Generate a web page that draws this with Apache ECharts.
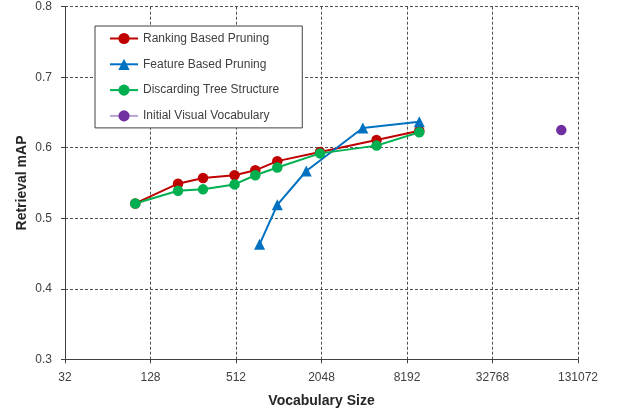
<!DOCTYPE html>
<html><head><meta charset="utf-8">
<script src="https://cdn.jsdelivr.net/npm/echarts@6/dist/echarts.min.js"></script>
<style>html,body{margin:0;padding:0;background:#fff}#c{width:620px;height:412px}</style>
</head><body><div id="c"></div>
<script>
const seriesNames = ['Ranking Based Pruning','Feature Based Pruning','Discarding Tree Structure','Initial Visual Vocabulary'];
const rankingSizes = [100,200,300,500,700,1000,2000,5000,10000];
const rankingMAP   = [0.521,0.549,0.557,0.561,0.568,0.581,0.594,0.611,0.624];
const featureSizes = [750,1000,1600,4000,10000];
const featureMAP   = [0.463,0.519,0.567,0.628,0.637];
const discardSizes = [100,200,300,500,700,1000,2000,5000,10000];
const discardMAP   = [0.521,0.539,0.541,0.548,0.561,0.572,0.592,0.603,0.622];
const initialSizes = [100000];
const initialMAP   = [0.625];
const xTickLabels  = ['32','128','512','2048','8192','32768','131072'];
const yTickLabels  = ['0.3','0.4','0.5','0.6','0.7','0.8'];
const baseSize = 32; // x axis starts at 32, each unit = one doubling

const colors = ['#C00000','#0070C0','#00B050','#7030A0'];
const FONT = '"Liberation Sans", Arial, sans-serif';
const toPts = (sizes, vals) => sizes.map((s, i) => [Math.log2(s / baseSize), vals[i]]);

const chart = echarts.init(document.getElementById('c'), null, {renderer: 'canvas'});
const dash = {color: '#505050', width: 1, type: [3, 2]};
chart.setOption({
  animation: false,
  backgroundColor: '#fff',
  grid: {left: 65, right: 42, top: 6.7, bottom: 52.7, containLabel: false, outerBoundsMode: 'none'},
  xAxis: {
    type: 'value', min: 0, max: 12, interval: 2,
    name: 'Vocabulary Size', nameLocation: 'middle', nameGap: 35, nameMoveOverlap: false,
    nameTextStyle: {fontFamily: FONT, fontSize: 14, fontWeight: 'bold', color: '#262626'},
    axisLine: {show: true, lineStyle: {color: '#404040', width: 1}},
    axisTick: {show: true, length: 4, lineStyle: {color: '#404040'}},
    axisLabel: {margin: 12, fontFamily: FONT, fontSize: 12, color: '#404040',
      formatter: v => xTickLabels[Math.round(v / 2)]},
    splitLine: {show: true, lineStyle: dash}
  },
  yAxis: {
    type: 'value', min: 0.3, max: 0.8, interval: 0.1,
    name: 'Retrieval mAP', nameLocation: 'middle', nameGap: 36, nameMoveOverlap: false,
    nameTextStyle: {fontFamily: FONT, fontSize: 14, fontWeight: 'bold', color: '#262626'},
    axisLine: {show: true, lineStyle: {color: '#404040', width: 1}},
    axisTick: {show: true, length: 4, lineStyle: {color: '#404040'}},
    axisLabel: {margin: 13, fontFamily: FONT, fontSize: 12, color: '#404040',
      formatter: v => yTickLabels[Math.round((v - 0.3) * 10)]},
    splitLine: {show: true, lineStyle: dash}
  },
  legend: {
    orient: 'vertical', left: 95, top: 26,
    backgroundColor: '#fff', borderColor: '#404040', borderWidth: 1,
    padding: [6.5, 23, 6, 14], itemWidth: 28, itemHeight: 14, itemGap: 13.8,
    textStyle: {fontFamily: FONT, fontSize: 12, color: '#404040'},
    data: seriesNames
  },
  series: [
    {name: seriesNames[0], type: 'line', data: toPts(rankingSizes, rankingMAP),
     symbol: 'circle', symbolSize: 10.5, lineStyle: {width: 2, color: colors[0]}, itemStyle: {color: colors[0]}},
    {name: seriesNames[1], type: 'line', data: toPts(featureSizes, featureMAP),
     symbol: 'triangle', symbolSize: 11, lineStyle: {width: 2, color: colors[1]}, itemStyle: {color: colors[1]}},
    {name: seriesNames[2], type: 'line', data: toPts(discardSizes, discardMAP),
     symbol: 'circle', symbolSize: 10.5, lineStyle: {width: 2, color: colors[2]}, itemStyle: {color: colors[2]}},
    {name: seriesNames[3], type: 'line', data: toPts(initialSizes, initialMAP),
     symbol: 'circle', symbolSize: 10.5, lineStyle: {width: 2, color: '#B9A3D6'}, itemStyle: {color: colors[3]}}
  ]
});
</script>
</body></html>
